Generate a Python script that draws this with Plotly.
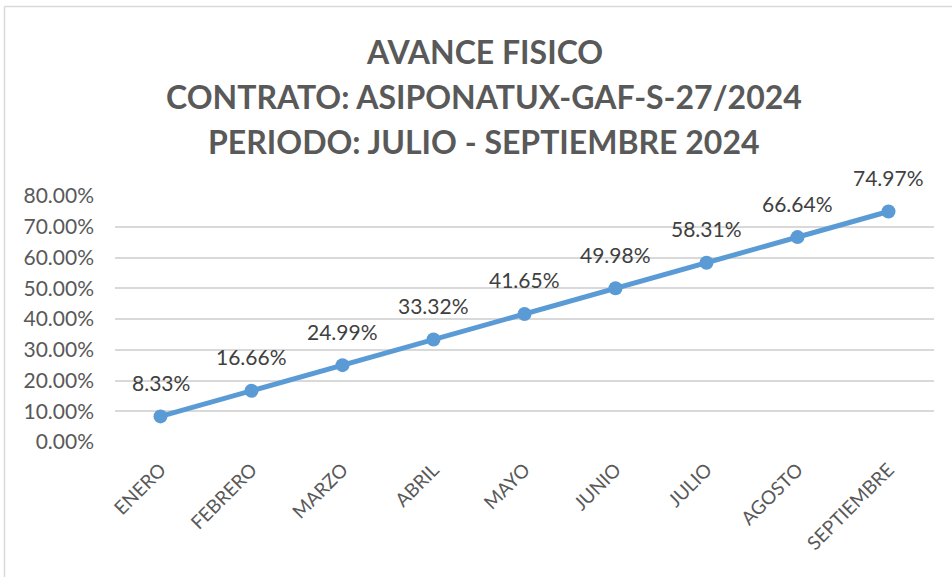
import plotly.graph_objects as go

categories = ["ENERO", "FEBRERO", "MARZO", "ABRIL", "MAYO", "JUNIO", "JULIO", "AGOSTO", "SEPTIEMBRE"]
values = [0.0833, 0.1666, 0.2499, 0.3332, 0.4165, 0.4998, 0.5831, 0.6664, 0.7497]
y_ticks = [0.0, 0.1, 0.2, 0.3, 0.4, 0.5, 0.6, 0.7, 0.8]
title_lines = ["AVANCE FISICO", "CONTRATO: ASIPONATUX-GAF-S-27/2024", "PERIODO: JULIO - SEPTIEMBRE 2024"]

W, H = 952, 577
L, R, T, B = 115, 18, 196, 135
FONT = "Lato"

fig = go.Figure()
fig.add_trace(go.Scatter(
    x=categories, y=values, mode="lines+markers",
    line=dict(color="#5B9BD5", width=5),
    marker=dict(color="#5B9BD5", size=14),
    cliponaxis=False,
    hoverinfo="skip",
))

pw = W - L - R
ph = H - T - B
def px_x(x):
    return (x - L) / pw
def px_y(y):
    return (H - B - y) / ph

shapes = [
    dict(type="line", xref="paper", yref="paper", x0=px_x(4.5), x1=px_x(4.5), y0=px_y(6.5), y1=px_y(600),
         line=dict(color="#D9D9D9", width=1.5)),
    dict(type="line", xref="paper", yref="paper", x0=px_x(4.5), x1=px_x(960), y0=px_y(6.5), y1=px_y(6.5),
         line=dict(color="#D9D9D9", width=1.5)),
]

annotations = []
for i, t in enumerate(title_lines):
    annotations.append(dict(
        text=f"<b>{t}</b>", xref="paper", yref="paper", x=px_x(484), y=px_y(51 + i * 45),
        showarrow=False, xanchor="center", yanchor="middle",
        font=dict(family=FONT, size=32, color="#595959"),
    ))
for c, v in zip(categories, values):
    annotations.append(dict(
        text=f"{v*100:.2f}%", x=c, y=v, xref="x", yref="y",
        showarrow=False, xanchor="center", yanchor="middle", yshift=34,
        font=dict(family=FONT, size=21, color="#404040"),
    ))

fig.update_layout(
    width=W, height=H,
    margin=dict(l=L, r=R, t=T, b=B),
    paper_bgcolor="white", plot_bgcolor="white",
    showlegend=False,
    shapes=shapes,
    annotations=annotations,
    xaxis=dict(
        type="category", range=[-0.5, 8.5], showgrid=False, zeroline=False,
        showline=False, ticks="", tickangle=-45,
        tickfont=dict(family=FONT, size=19, color="#595959"),
        ticklabelstandoff=12,
    ),
    yaxis=dict(
        range=[0, 0.8], tickvals=y_ticks, tickformat=".2%",
        showgrid=True, gridcolor="#D9D9D9", gridwidth=1.5,
        zeroline=False, showline=False, ticks="",
        tickfont=dict(family=FONT, size=21, color="#595959"),
        ticklabelstandoff=20,
    ),
)

fig.write_html("out.html", config={"displayModeBar": False},
               post_script="document.body.style.margin='0';")
